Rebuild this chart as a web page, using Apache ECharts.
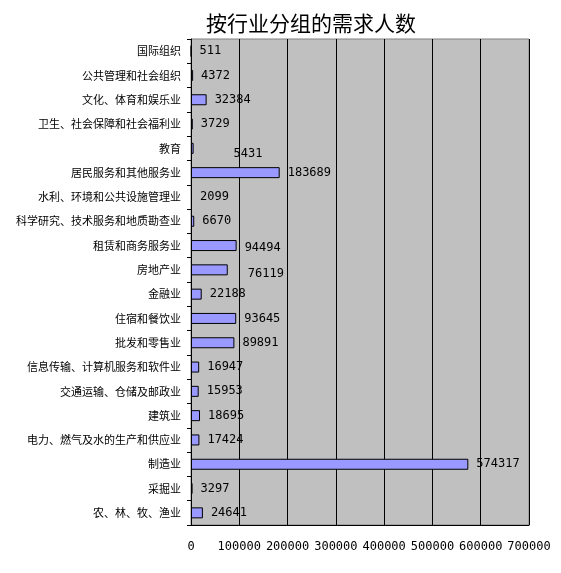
<!DOCTYPE html>
<html>
<head>
<meta charset="utf-8">
<script src="https://cdn.jsdelivr.net/npm/echarts@6/dist/echarts.min.js"></script>
<style>html,body{margin:0;padding:0;background:#fff;}#c{width:561px;height:573px;}</style>
</head>
<body>
<div id="c"></div>
<script>
var categories = ['国际组织','公共管理和社会组织','文化、体育和娱乐业','卫生、社会保障和社会福利业','教育','居民服务和其他服务业','水利、环境和公共设施管理业','科学研究、技术服务和地质勘查业','租赁和商务服务业','房地产业','金融业','住宿和餐饮业','批发和零售业','信息传输、计算机服务和软件业','交通运输、仓储及邮政业','建筑业','电力、燃气及水的生产和供应业','制造业','采掘业','农、林、牧、渔业'];
var values = [511,4372,32384,3729,5431,183689,2099,6670,94494,76119,22188,93645,89891,16947,15953,18695,17424,574317,3297,24641];
var xTicks = [0,100000,200000,300000,400000,500000,600000,700000];

// label style tweaks (offsets as seen in the reference)
var labelTweaks = {'教育':[32,6],'房地产业':[12,4],'租赁和商务服务业':[0,2]};

var chart = echarts.init(document.getElementById('c'));
var data = values.map(function(v,i){
  var item = {value:v};
  var t = labelTweaks[categories[i]];
  if (t) item.label = {offset:t};
  return item;
});
chart.setOption({
  animation:false,
  title:{
    text:'按行业分组的需求人数',
    left:306, top:8, textAlign:'center',
    textStyle:{fontSize:21,fontWeight:'normal',color:'#000',fontFamily:'Noto Sans CJK SC'}
  },
  grid:{left:191,right:32,top:39,bottom:48,show:true,backgroundColor:'#C0C0C0',borderColor:'#808080',borderWidth:1},
  xAxis:{
    type:'value',min:xTicks[0],max:xTicks[xTicks.length-1],interval:100000,
    axisLine:{show:true,lineStyle:{color:'#000',width:1}},
    axisTick:{show:false},
    splitLine:{show:true,lineStyle:{color:'#000',width:1}},
    axisLabel:{margin:16,color:'#000',fontSize:12,fontFamily:'DejaVu Sans Mono',
      showMinLabel:true,showMaxLabel:true,hideOverlap:false,
      formatter:function(v){return String(v);}}
  },
  yAxis:{
    type:'category',inverse:true,data:categories,
    axisLine:{show:true,lineStyle:{color:'#000',width:1}},
    axisTick:{show:true,length:4,lineStyle:{color:'#000'}},
    axisLabel:{margin:10,color:'#000',fontSize:11,fontFamily:'Noto Sans CJK SC'}
  },
  series:[{
    type:'bar',data:data,barWidth:11,
    itemStyle:{color:'#9999FF',borderColor:'#000',borderWidth:1},
    label:{show:true,position:'right',distance:8,color:'#000',fontSize:12,fontFamily:'DejaVu Sans Mono'}
  }]
});
</script>
</body>
</html>
